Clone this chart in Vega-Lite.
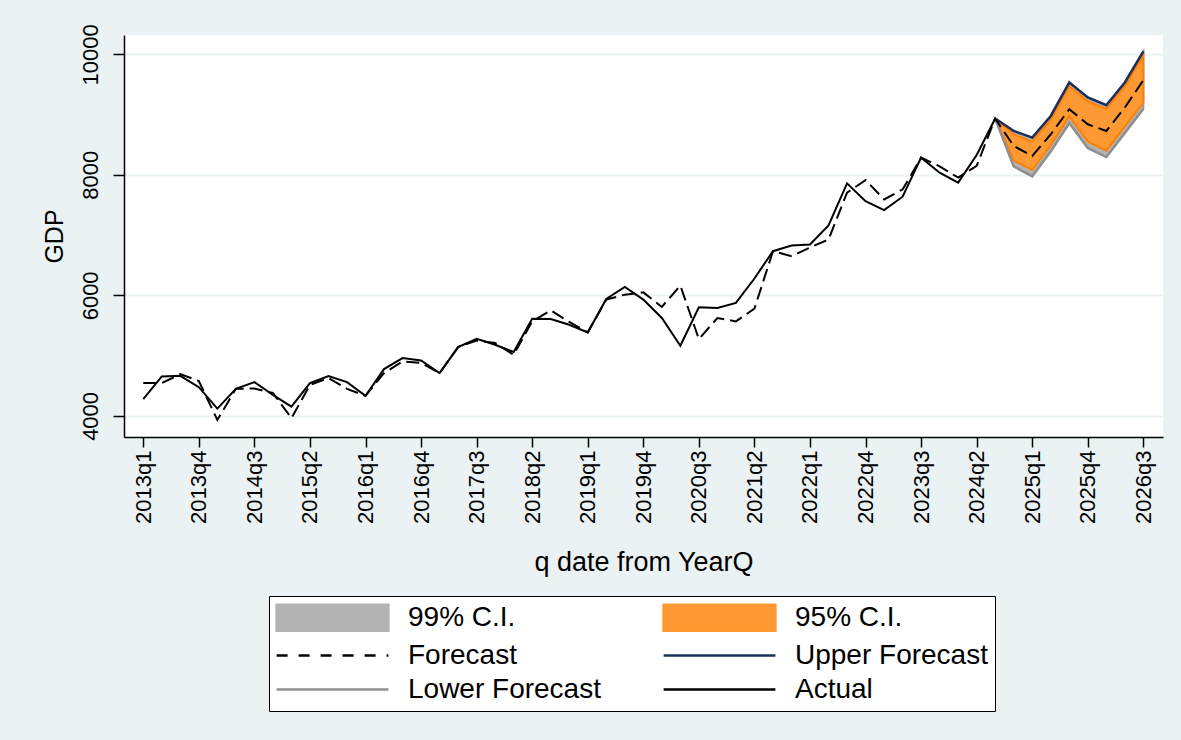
{
  "$schema": "https://vega.github.io/schema/vega-lite/v6.json",
  "width": 1039,
  "height": 402,
  "autosize": {"type": "none"},
  "padding": {"left": 124, "top": 35, "right": 18, "bottom": 303},
  "background": "#eaf2f3",
  "data": {"values": [
    {"series": "Actual", "t": 0, "value": 4278}, {"series": "Actual", "t": 1, "value": 4654}, {"series": "Actual", "t": 2, "value": 4665},
    {"series": "Actual", "t": 3, "value": 4477}, {"series": "Actual", "t": 4, "value": 4121}, {"series": "Actual", "t": 5, "value": 4449},
    {"series": "Actual", "t": 6, "value": 4560}, {"series": "Actual", "t": 7, "value": 4349}, {"series": "Actual", "t": 8, "value": 4155},
    {"series": "Actual", "t": 9, "value": 4544}, {"series": "Actual", "t": 10, "value": 4660}, {"series": "Actual", "t": 11, "value": 4560},
    {"series": "Actual", "t": 12, "value": 4333}, {"series": "Actual", "t": 13, "value": 4777}, {"series": "Actual", "t": 14, "value": 4960},
    {"series": "Actual", "t": 15, "value": 4920}, {"series": "Actual", "t": 16, "value": 4710}, {"series": "Actual", "t": 17, "value": 5142},
    {"series": "Actual", "t": 18, "value": 5280}, {"series": "Actual", "t": 19, "value": 5180}, {"series": "Actual", "t": 20, "value": 5060},
    {"series": "Actual", "t": 21, "value": 5613}, {"series": "Actual", "t": 22, "value": 5608}, {"series": "Actual", "t": 23, "value": 5513},
    {"series": "Actual", "t": 24, "value": 5385}, {"series": "Actual", "t": 25, "value": 5940}, {"series": "Actual", "t": 26, "value": 6141},
    {"series": "Actual", "t": 27, "value": 5930}, {"series": "Actual", "t": 28, "value": 5625}, {"series": "Actual", "t": 29, "value": 5164},
    {"series": "Actual", "t": 30, "value": 5801}, {"series": "Actual", "t": 31, "value": 5791}, {"series": "Actual", "t": 32, "value": 5874},
    {"series": "Actual", "t": 33, "value": 6280}, {"series": "Actual", "t": 34, "value": 6733}, {"series": "Actual", "t": 35, "value": 6827},
    {"series": "Actual", "t": 36, "value": 6844}, {"series": "Actual", "t": 37, "value": 7160}, {"series": "Actual", "t": 38, "value": 7858},
    {"series": "Actual", "t": 39, "value": 7564}, {"series": "Actual", "t": 40, "value": 7414}, {"series": "Actual", "t": 41, "value": 7637},
    {"series": "Actual", "t": 42, "value": 8285}, {"series": "Actual", "t": 43, "value": 8036}, {"series": "Actual", "t": 44, "value": 7870},
    {"series": "Actual", "t": 45, "value": 8330}, {"series": "Actual", "t": 46, "value": 8934},
    {"series": "Forecast", "t": 0, "value": 4544}, {"series": "Forecast", "t": 1, "value": 4544}, {"series": "Forecast", "t": 2, "value": 4693},
    {"series": "Forecast", "t": 3, "value": 4580}, {"series": "Forecast", "t": 4, "value": 3933}, {"series": "Forecast", "t": 5, "value": 4449},
    {"series": "Forecast", "t": 6, "value": 4455}, {"series": "Forecast", "t": 7, "value": 4380}, {"series": "Forecast", "t": 8, "value": 3962},
    {"series": "Forecast", "t": 9, "value": 4515}, {"series": "Forecast", "t": 10, "value": 4627}, {"series": "Forecast", "t": 11, "value": 4449},
    {"series": "Forecast", "t": 12, "value": 4333}, {"series": "Forecast", "t": 13, "value": 4710}, {"series": "Forecast", "t": 14, "value": 4903},
    {"series": "Forecast", "t": 15, "value": 4880}, {"series": "Forecast", "t": 16, "value": 4710}, {"series": "Forecast", "t": 17, "value": 5142},
    {"series": "Forecast", "t": 18, "value": 5250}, {"series": "Forecast", "t": 19, "value": 5209}, {"series": "Forecast", "t": 20, "value": 5014},
    {"series": "Forecast", "t": 21, "value": 5568}, {"series": "Forecast", "t": 22, "value": 5751}, {"series": "Forecast", "t": 23, "value": 5560},
    {"series": "Forecast", "t": 24, "value": 5385}, {"series": "Forecast", "t": 25, "value": 5929}, {"series": "Forecast", "t": 26, "value": 6012},
    {"series": "Forecast", "t": 27, "value": 6050}, {"series": "Forecast", "t": 28, "value": 5808}, {"series": "Forecast", "t": 29, "value": 6162},
    {"series": "Forecast", "t": 30, "value": 5275}, {"series": "Forecast", "t": 31, "value": 5625}, {"series": "Forecast", "t": 32, "value": 5568},
    {"series": "Forecast", "t": 33, "value": 5780}, {"series": "Forecast", "t": 34, "value": 6733}, {"series": "Forecast", "t": 35, "value": 6650},
    {"series": "Forecast", "t": 36, "value": 6794}, {"series": "Forecast", "t": 37, "value": 6927}, {"series": "Forecast", "t": 38, "value": 7704},
    {"series": "Forecast", "t": 39, "value": 7913}, {"series": "Forecast", "t": 40, "value": 7592}, {"series": "Forecast", "t": 41, "value": 7758},
    {"series": "Forecast", "t": 42, "value": 8285}, {"series": "Forecast", "t": 43, "value": 8140}, {"series": "Forecast", "t": 44, "value": 7953},
    {"series": "Forecast", "t": 45, "value": 8150}, {"series": "Forecast", "t": 46, "value": 8934}, {"series": "Forecast", "t": 47, "value": 8478},
    {"series": "Forecast", "t": 48, "value": 8312}, {"series": "Forecast", "t": 49, "value": 8673}, {"series": "Forecast", "t": 50, "value": 9089},
    {"series": "Forecast", "t": 51, "value": 8839}, {"series": "Forecast", "t": 52, "value": 8728}, {"series": "Forecast", "t": 53, "value": 9117},
    {"series": "Forecast", "t": 54, "value": 9571},
    {"series": "Upper Forecast", "t": 46, "value": 8934}, {"series": "Upper Forecast", "t": 47, "value": 8728}, {"series": "Upper Forecast", "t": 48, "value": 8618},
    {"series": "Upper Forecast", "t": 49, "value": 8977}, {"series": "Upper Forecast", "t": 50, "value": 9532}, {"series": "Upper Forecast", "t": 51, "value": 9283},
    {"series": "Upper Forecast", "t": 52, "value": 9155}, {"series": "Upper Forecast", "t": 53, "value": 9532}, {"series": "Upper Forecast", "t": 54, "value": 10048},
    {"series": "Lower Forecast", "t": 46, "value": 8934}, {"series": "Lower Forecast", "t": 47, "value": 8140}, {"series": "Lower Forecast", "t": 48, "value": 7975},
    {"series": "Lower Forecast", "t": 49, "value": 8390}, {"series": "Lower Forecast", "t": 50, "value": 8860}, {"series": "Lower Forecast", "t": 51, "value": 8445},
    {"series": "Lower Forecast", "t": 52, "value": 8295}, {"series": "Lower Forecast", "t": 53, "value": 8695}, {"series": "Lower Forecast", "t": 54, "value": 9095},
    {"series": "99% C.I.", "t": 46, "lo": 8934, "hi": 8934}, {"series": "99% C.I.", "t": 47, "lo": 8140, "hi": 8728}, {"series": "99% C.I.", "t": 48, "lo": 7975, "hi": 8618},
    {"series": "99% C.I.", "t": 49, "lo": 8390, "hi": 8977}, {"series": "99% C.I.", "t": 50, "lo": 8860, "hi": 9532}, {"series": "99% C.I.", "t": 51, "lo": 8445, "hi": 9283},
    {"series": "99% C.I.", "t": 52, "lo": 8295, "hi": 9155}, {"series": "99% C.I.", "t": 53, "lo": 8695, "hi": 9532}, {"series": "99% C.I.", "t": 54, "lo": 9095, "hi": 10048},
    {"series": "95% C.I.", "t": 46, "lo": 8934, "hi": 8934}, {"series": "95% C.I.", "t": 47, "lo": 8240, "hi": 8670}, {"series": "95% C.I.", "t": 48, "lo": 8080, "hi": 8555},
    {"series": "95% C.I.", "t": 49, "lo": 8490, "hi": 8915}, {"series": "95% C.I.", "t": 50, "lo": 8970, "hi": 9470}, {"series": "95% C.I.", "t": 51, "lo": 8550, "hi": 9220},
    {"series": "95% C.I.", "t": 52, "lo": 8400, "hi": 9095}, {"series": "95% C.I.", "t": 53, "lo": 8800, "hi": 9470}, {"series": "95% C.I.", "t": 54, "lo": 9200, "hi": 9985}
  ]},
  "encoding": {
    "x": {
      "field": "t", "type": "quantitative",
      "scale": {"domain": [-1.04, 55.06], "nice": false, "zero": false},
      "axis": {
        "title": "q date from YearQ",
        "values": [0, 3, 6, 9, 12, 15, 18, 21, 24, 27, 30, 33, 36, 39, 42, 45, 48, 51, 54],
        "labelExpr": "(floor(datum.value/4)+2013) + 'q' + (datum.value%4+1)",
        "grid": false,
        "tickSize": 10,
        "labelAngle": -90,
        "labelAlign": "right",
        "labelBaseline": "middle",
        "labelFontSize": 22,
        "labelPadding": 3,
        "titleFontSize": 27,
        "titlePadding": 26,
        "labelOverlap": false
      }
    },
    "color": {
      "field": "series", "type": "nominal",
      "scale": {
        "domain": ["99% C.I.", "95% C.I.", "Forecast", "Upper Forecast", "Lower Forecast", "Actual"],
        "range": ["#b3b3b3", "#ff9933", "#000000", "#1a2f5c", "#8f8f8f", "#000000"]
      },
      "legend": {
        "title": null,
        "orient": "none",
        "direction": "horizontal",
        "legendX": 145,
        "legendY": 561,
        "columns": 2,
        "symbolSize": 676,
        "symbolStrokeWidth": 2.5,
        "symbolOffset": 42,
        "labelOffset": 61,
        "labelFontSize": 28,
        "labelFont": "Liberation Sans",
        "labelColor": "black",
        "labelLimit": 400,
        "rowPadding": 5,
        "columnPadding": 57,
        "padding": 7,
        "fillColor": "white",
        "strokeColor": "black",
        "encode": {
          "symbols": {
            "update": {
              "shape": {"signal": "(datum.value === '99% C.I.' || datum.value === '95% C.I.') ? 'M-4.3,-1H4.3V1H-4.3Z' : 'M-4.3,0H4.3'"},
              "fill": {"signal": "datum.value === '99% C.I.' ? '#b3b3b3' : (datum.value === '95% C.I.' ? '#ff9933' : 'transparent')"},
              "stroke": {"signal": "datum.value === '99% C.I.' ? '#999999' : (datum.value === '95% C.I.' ? '#ff8000' : (datum.value === 'Upper Forecast' ? '#1a2f5c' : (datum.value === 'Lower Forecast' ? '#8f8f8f' : '#000000')))"},
              "strokeDash": {"signal": "datum.value === 'Forecast' ? [11, 11] : []"},
              "strokeWidth": {"value": 2.5},
              "opacity": {"value": 1}
            }
          }
        }
      }
    }
  },
  "layer": [
    {
      "transform": [{"filter": "datum.series === '99% C.I.'"}],
      "mark": {"type": "area", "fill": "#b3b3b3", "stroke": "#999999", "strokeWidth": 2, "opacity": 1},
      "encoding": {
        "y": {
          "field": "lo", "type": "quantitative", "title": "GDP",
          "scale": {"domain": [3650, 10320], "nice": false, "zero": false},
          "axis": {
            "values": [4000, 6000, 8000, 10000],
            "format": "d",
            "grid": true,
            "tickSize": 11,
            "labelAngle": -90,
            "labelAlign": "center",
            "labelBaseline": "bottom",
            "labelFontSize": 22,
            "labelPadding": 11,
            "titleFontSize": 25,
            "titlePadding": 12
          }
        },
        "y2": {"field": "hi"}
      }
    },
    {
      "transform": [{"filter": "datum.series === '95% C.I.'"}],
      "mark": {"type": "area", "fill": "#ff9933", "stroke": "#ff8000", "strokeWidth": 2, "opacity": 1},
      "encoding": {
        "y": {"field": "lo", "type": "quantitative", "title": "GDP"},
        "y2": {"field": "hi"}
      }
    },
    {
      "transform": [{"filter": "datum.series === 'Upper Forecast'"}],
      "mark": {"type": "line", "stroke": "#1a2f5c", "strokeWidth": 2.5},
      "encoding": {
        "y": {"field": "value", "type": "quantitative", "title": "GDP"}
      }
    },
    {
      "transform": [{"filter": "datum.series === 'Lower Forecast'"}],
      "mark": {"type": "line", "stroke": "#8f8f8f", "strokeWidth": 2.5},
      "encoding": {
        "y": {"field": "value", "type": "quantitative", "title": "GDP"}
      }
    },
    {
      "transform": [{"filter": "datum.series === 'Forecast'"}],
      "mark": {"type": "line", "stroke": "#000000", "strokeWidth": 2, "strokeDash": [13, 6]},
      "encoding": {
        "y": {"field": "value", "type": "quantitative", "title": "GDP"}
      }
    },
    {
      "transform": [{"filter": "datum.series === 'Actual'"}],
      "mark": {"type": "line", "stroke": "#000000", "strokeWidth": 2},
      "encoding": {
        "y": {"field": "value", "type": "quantitative", "title": "GDP"}
      }
    }
  ],
  "config": {
    "view": {"fill": "white", "stroke": null},
    "font": "Liberation Sans",
    "axis": {
      "domainColor": "black",
      "domainWidth": 1.5,
      "tickColor": "black",
      "tickWidth": 1.5,
      "labelColor": "black",
      "titleColor": "black",
      "labelFont": "Liberation Sans",
      "titleFont": "Liberation Sans",
      "titleFontWeight": "normal",
      "gridColor": "#eaf2f3",
      "gridWidth": 2
    }
  }
}
